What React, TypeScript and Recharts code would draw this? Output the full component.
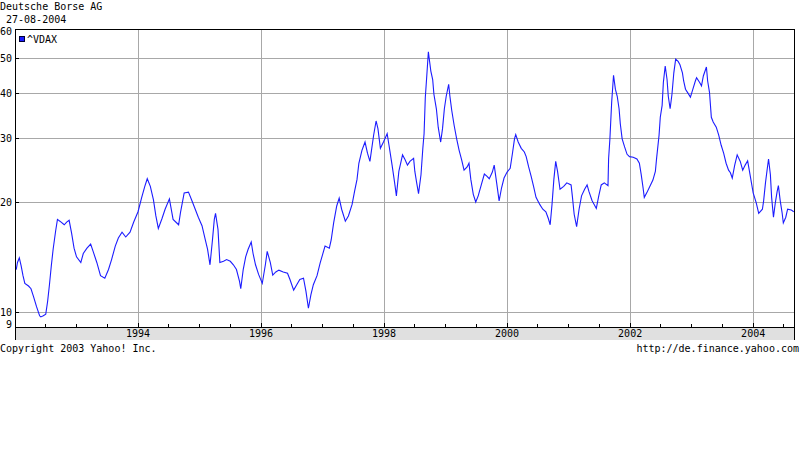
import { LineChart, Line, XAxis, YAxis, CartesianGrid } from "recharts"

const TITLE = "Deutsche Borse AG"
const DATE_LABEL = " 27-08-2004"
const SERIES_NAME = "^VDAX"
const COPYRIGHT = "Copyright 2003 Yahoo! Inc."
const SOURCE_URL = "http://de.finance.yahoo.com"

// decimal years
const dates = [
  1992.02, 1992.04, 1992.07, 1992.10, 1992.13, 1992.16, 1992.22, 1992.26, 1992.30, 1992.35,
  1992.40, 1992.42, 1992.46, 1992.50, 1992.53, 1992.56, 1992.59, 1992.62, 1992.66, 1992.69,
  1992.73, 1992.80, 1992.84, 1992.88, 1992.92, 1992.96, 1993.00, 1993.07, 1993.11, 1993.17,
  1993.23, 1993.27, 1993.33, 1993.39, 1993.46, 1993.52, 1993.57, 1993.63, 1993.68, 1993.74,
  1993.80, 1993.87, 1993.93, 1994.00, 1994.06, 1994.11, 1994.15, 1994.20, 1994.25, 1994.29,
  1994.33, 1994.39, 1994.44, 1994.51, 1994.57, 1994.66, 1994.69, 1994.75, 1994.82, 1994.87,
  1994.93, 1994.98, 1995.04, 1995.09, 1995.13, 1995.17, 1995.21, 1995.24, 1995.26, 1995.30,
  1995.33, 1995.39, 1995.44, 1995.50, 1995.55, 1995.60, 1995.65, 1995.67, 1995.71, 1995.75,
  1995.79, 1995.84, 1995.87, 1995.91, 1995.96, 1996.02, 1996.07, 1996.10, 1996.15, 1996.19,
  1996.24, 1996.29, 1996.36, 1996.43, 1996.47, 1996.53, 1996.58, 1996.63, 1996.69, 1996.73,
  1996.77, 1996.81, 1996.85, 1996.91, 1996.96, 1997.00, 1997.04, 1997.11, 1997.14, 1997.18,
  1997.23, 1997.27, 1997.31, 1997.37, 1997.42, 1997.48, 1997.52, 1997.56, 1997.59, 1997.64,
  1997.69, 1997.73, 1997.77, 1997.83, 1997.87, 1997.90, 1997.94, 1997.99, 1998.05, 1998.08,
  1998.13, 1998.17, 1998.20, 1998.24, 1998.30, 1998.34, 1998.38, 1998.42, 1998.48, 1998.50,
  1998.53, 1998.56, 1998.60, 1998.63, 1998.65, 1998.67, 1998.69, 1998.72, 1998.74, 1998.76,
  1998.79, 1998.81, 1998.85, 1998.88, 1998.92, 1998.95, 1998.98, 1999.01, 1999.05, 1999.07,
  1999.10, 1999.14, 1999.18, 1999.22, 1999.26, 1999.30, 1999.35, 1999.38, 1999.41, 1999.45,
  1999.49, 1999.53, 1999.58, 1999.63, 1999.67, 1999.71, 1999.76, 1999.79, 1999.83, 1999.87,
  1999.91, 1999.95, 2000.00, 2000.05, 2000.09, 2000.12, 2000.14, 2000.18, 2000.23, 2000.28,
  2000.31, 2000.35, 2000.39, 2000.43, 2000.47, 2000.53, 2000.58, 2000.63, 2000.67, 2000.70,
  2000.73, 2000.76, 2000.79, 2000.82, 2000.86, 2000.92, 2000.97, 2001.04, 2001.06, 2001.09,
  2001.13, 2001.17, 2001.21, 2001.26, 2001.30, 2001.33, 2001.38, 2001.45, 2001.49, 2001.53,
  2001.58, 2001.64, 2001.65, 2001.67, 2001.70, 2001.72, 2001.73, 2001.76, 2001.79, 2001.82,
  2001.84, 2001.87, 2001.91, 2001.95, 2001.99, 2002.05, 2002.11, 2002.15, 2002.18, 2002.21,
  2002.23, 2002.27, 2002.31, 2002.37, 2002.41, 2002.43, 2002.47, 2002.49, 2002.52, 2002.54,
  2002.57, 2002.60, 2002.62, 2002.65, 2002.68, 2002.71, 2002.74, 2002.78, 2002.81, 2002.85,
  2002.87, 2002.90, 2002.94, 2002.98, 2003.02, 2003.06, 2003.08, 2003.13, 2003.16, 2003.19,
  2003.24, 2003.26, 2003.29, 2003.32, 2003.35, 2003.40, 2003.44, 2003.48, 2003.52, 2003.56,
  2003.60, 2003.63, 2003.66, 2003.70, 2003.74, 2003.79, 2003.83, 2003.87, 2003.91, 2003.94,
  2003.97, 2004.00, 2004.05, 2004.09, 2004.15, 2004.17, 2004.20, 2004.23, 2004.25, 2004.28,
  2004.30, 2004.33, 2004.36, 2004.39, 2004.41, 2004.44, 2004.47, 2004.49, 2004.53, 2004.56,
  2004.62, 2004.66,
]

const vdax = [
  13.1, 13.7, 14.1, 13.4, 12.6, 12.0, 11.8, 11.6, 11.05, 10.35,
  9.77, 9.7, 9.77, 9.87, 10.7, 11.9, 13.4, 14.9, 16.7, 18.0,
  17.8, 17.4, 17.7, 17.9, 16.5, 15.0, 14.2, 13.7, 14.5, 15.0,
  15.4, 14.7, 13.7, 12.6, 12.4, 13.1, 13.95, 15.2, 16.0, 16.6,
  16.1, 16.6, 17.7, 18.9, 20.7, 22.2, 23.3, 22.2, 20.4, 18.4,
  17.0, 18.1, 19.2, 20.5, 18.0, 17.4, 18.8, 21.3, 21.4, 20.4,
  19.2, 18.25, 17.3, 15.9, 14.9, 13.5, 15.8, 18.0, 18.7, 16.9,
  13.7, 13.8, 13.95, 13.8, 13.5, 13.1, 12.15, 11.6, 13.1, 14.2,
  14.9, 15.6, 14.5, 13.5, 12.7, 12.0, 13.5, 14.7, 13.7, 12.65,
  12.9, 13.05, 12.9, 12.8, 12.3, 11.5, 11.9, 12.3, 12.4, 11.4,
  10.25, 11.15, 11.9, 12.6, 13.65, 14.4, 15.2, 15.0, 15.8, 17.6,
  19.6, 20.6, 19.2, 17.8, 18.4, 19.8, 21.5, 23.2, 25.7, 27.9,
  29.4, 27.4, 26.0, 30.7, 33.6, 32.0, 28.25, 29.4, 31.0, 28.8,
  25.4, 22.8, 20.9, 24.4, 27.1, 26.3, 25.4, 26.0, 26.5, 24.4,
  22.7, 21.2, 23.9, 28.25, 31.0, 39.0, 43.7, 52.1, 49.0, 46.1,
  43.7, 39.8, 36.3, 32.3, 29.4, 32.0, 36.3, 39.3, 42.4, 39.3,
  35.9, 32.6, 30.0, 27.9, 26.3, 24.6, 25.1, 25.7, 23.2, 21.1,
  20.1, 20.9, 22.4, 24.0, 23.7, 23.3, 24.3, 25.4, 22.7, 20.25,
  22.0, 23.4, 24.3, 24.9, 27.6, 30.0, 30.8, 29.4, 28.25, 27.6,
  26.8, 25.1, 23.7, 22.2, 20.7, 19.8, 19.2, 18.9, 18.1, 17.4,
  19.8, 23.2, 26.0, 24.4, 21.8, 22.2, 22.7, 22.4, 20.9, 18.6,
  17.2, 19.2, 20.9, 21.8, 22.4, 21.5, 20.3, 19.3, 20.9, 22.4,
  22.7, 22.3, 26.5, 29.8, 37.9, 42.4, 44.9, 41.1, 39.3, 36.3,
  33.0, 30.0, 28.5, 27.2, 26.8, 26.7, 26.4, 25.7, 23.9, 22.0,
  20.7, 21.3, 22.0, 23.1, 24.4, 26.5, 30.7, 34.4, 37.1, 42.9,
  47.6, 43.7, 39.3, 36.3, 39.8, 45.6, 49.7, 49.0, 48.0, 45.6,
  43.3, 41.1, 40.1, 39.1, 41.1, 43.3, 44.2, 42.9, 42.0, 44.7,
  47.3, 43.3, 40.3, 34.4, 33.4, 32.3, 30.7, 28.8, 27.4, 25.7,
  24.6, 24.2, 23.4, 25.4, 27.1, 26.0, 24.6, 25.4, 26.1, 24.4,
  22.8, 21.3, 20.0, 18.7, 19.2, 20.25, 22.7, 24.9, 26.4, 23.9,
  20.7, 18.25, 20.0, 21.5, 22.3, 20.25, 18.8, 17.6, 18.25, 19.2,
  19.1, 18.9,
]

const X_DOMAIN = [1992, 2004.68]
const HALF_YEAR_TICKS = [
  1992.5, 1993, 1993.5, 1994, 1994.5, 1995, 1995.5, 1996, 1996.5, 1997, 1997.5, 1998, 1998.5,
  1999, 1999.5, 2000, 2000.5, 2001, 2001.5, 2002, 2002.5, 2003, 2003.5, 2004, 2004.5,
]
const YEAR_GRID = [1994, 1996, 1998, 2000, 2002, 2004]

const Y_DOMAIN = [9.1, 60.2]
const Y_TICKS = [9.1, 10, 20, 30, 40, 50, 60.2]
const Y_GRID = [10, 20, 30, 40, 50]

const LINE_COLOR = "#1c1cff"
const GRID_COLOR = "#a8a8a8"
const FONT = "'DejaVu Sans Mono', monospace"

const data = dates.map((t, i) => ({ t, v: vdax[i] }))

const isMajor = (v: number) => YEAR_GRID.includes(v)

function BottomTick({ x, y, payload }: any) {
  const v = payload.value
  const len = isMajor(v) ? 4 : 3
  return (
    <g>
      <line x1={x} x2={x} y1={y} y2={y - len} stroke="#000" shapeRendering="crispEdges" />
      {isMajor(v) && (
        <text x={x} y={y + 10} textAnchor="middle" fontSize={10} fontFamily={FONT} fill="#000">
          {v}
        </text>
      )}
    </g>
  )
}

function TopTick({ x, y, payload }: any) {
  const len = isMajor(payload.value) ? 3 : 2
  return <line x1={x} x2={x} y1={y} y2={y + len} stroke="#000" shapeRendering="crispEdges" />
}

function LeftTick({ x, y, payload }: any) {
  const v = payload.value
  let dy = 3.5
  if (v === Y_DOMAIN[1]) dy = 6
  if (v === Y_DOMAIN[0]) dy = 1
  return (
    <g>
      {Y_GRID.includes(v) && (
        <line x1={x} x2={x + 4} y1={y} y2={y} stroke="#000" shapeRendering="crispEdges" />
      )}
      <text x={x - 3} y={y + dy} textAnchor="end" fontSize={10} fontFamily={FONT} fill="#000">
        {Math.round(v)}
      </text>
    </g>
  )
}

function RightTick({ x, y, payload }: any) {
  if (!Y_GRID.includes(payload.value)) return <g />
  return <line x1={x} x2={x - 4} y1={y} y2={y} stroke="#000" shapeRendering="crispEdges" />
}

export default function App() {
  return (
    <div style={{ position: "absolute", left: 0, top: 0, width: 800, height: 475, background: "#fff" }}>
      <div
        style={{
          position: "absolute", left: 15, top: 327, width: 780, height: 13, boxSizing: "border-box",
          background: "#e0e0e0", borderLeft: "1px solid #000", borderRight: "1px solid #000",
        }}
      />
      <div style={{ position: "absolute", left: 0, top: 0 }}>
        <LineChart width={800} height={475} data={data} margin={{ top: 29, right: 5, bottom: 135, left: 0 }}>
          <CartesianGrid stroke={GRID_COLOR} horizontalValues={Y_GRID} verticalValues={YEAR_GRID} shapeRendering="crispEdges" />
          <XAxis
            dataKey="t" type="number" domain={X_DOMAIN} ticks={HALF_YEAR_TICKS} height={13}
            allowDataOverflow tickSize={0} tickMargin={0} tickLine={false}
            axisLine={{ stroke: "#000", shapeRendering: "crispEdges" }} tick={<BottomTick />} interval={0}
          />
          <XAxis
            xAxisId="top" orientation="top" dataKey="t" type="number" domain={X_DOMAIN} ticks={HALF_YEAR_TICKS}
            height={0} allowDataOverflow tickSize={0} tickMargin={0} tickLine={false}
            axisLine={{ stroke: "#000", shapeRendering: "crispEdges" }} tick={<TopTick />} interval={0}
          />
          <YAxis
            type="number" scale="log" domain={Y_DOMAIN} ticks={Y_TICKS} width={15} allowDataOverflow
            tickSize={0} tickMargin={0} tickLine={false}
            axisLine={{ stroke: "#000", shapeRendering: "crispEdges" }} tick={<LeftTick />} interval={0}
          />
          <YAxis
            yAxisId="right" orientation="right" type="number" scale="log" domain={Y_DOMAIN} ticks={Y_TICKS}
            width={0} allowDataOverflow tickSize={0} tickMargin={0} tickLine={false}
            axisLine={{ stroke: "#000", shapeRendering: "crispEdges" }} tick={<RightTick />} interval={0}
          />
          {/* invisible twin so the top and right frame axes have a series */}
          <Line xAxisId="top" yAxisId="right" dataKey="v" stroke="none" dot={false} legendType="none" isAnimationActive={false} />
          <Line dataKey="v" type="linear" stroke={LINE_COLOR} strokeWidth={1.1} dot={false} isAnimationActive={false} />
        </LineChart>
      </div>
      <div
        style={{
          position: "absolute", left: 15, top: 29, width: 780, height: 298, boxSizing: "border-box",
          borderTop: "1px solid #000", borderRight: "1px solid #000", pointerEvents: "none",
        }}
      />
      <svg width={800} height={475} style={{ position: "absolute", left: 0, top: 0, pointerEvents: "none" }}>
        <g fontFamily={FONT} fontSize={10} fill="#000">
          <text x={0} y={10} style={{ whiteSpace: "pre" }}>{TITLE}</text>
          <text x={0} y={23} style={{ whiteSpace: "pre" }}>{DATE_LABEL}</text>
          <rect x={19.5} y={36.5} width={5} height={5} fill={LINE_COLOR} stroke="#000033" />
          <text x={27} y={43}>{SERIES_NAME}</text>
          <text x={0} y={352}>{COPYRIGHT}</text>
          <text x={799} y={352} textAnchor="end">{SOURCE_URL}</text>
        </g>
      </svg>
    </div>
  )
}
